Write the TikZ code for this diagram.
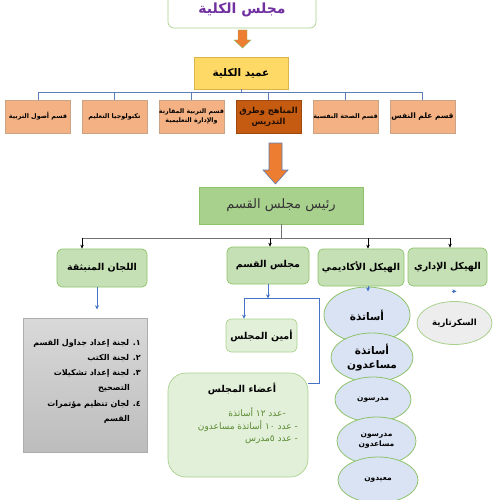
\documentclass[tikz,border=0pt]{standalone}
\usepackage{fontspec}
\TeXXeTstate=1
\newfontfamily\arabicfont[Script=Arabic]{DejaVu Sans}
\newcommand{\AR}[1]{\beginR#1\endR}
\usetikzlibrary{shapes.geometric,arrows.meta,calc}
\definecolor{cPurple}{HTML}{7030A0}
\definecolor{cOrange}{HTML}{ED7D31}
\definecolor{cYellow}{HTML}{FFD966}
\definecolor{cYellowB}{HTML}{D9B44A}
\definecolor{cPeach}{HTML}{F4B183}
\definecolor{cPeachB}{HTML}{C9A386}
\definecolor{cRust}{HTML}{C55A11}
\definecolor{cGreenA}{HTML}{A9D18E}
\definecolor{cGreenB}{HTML}{C5E0B4}
\definecolor{cGreenC}{HTML}{E2F0D9}
\definecolor{cGreenLine}{HTML}{8DC26B}
\definecolor{cBlueFill}{HTML}{DAE3F3}
\definecolor{cBlue}{HTML}{4472C4}
\definecolor{cTopLine}{HTML}{5B7DB8}
\definecolor{cGreyFill}{HTML}{EDEDED}
\definecolor{cItem}{HTML}{5B8A32}
\begin{document}
\begin{tikzpicture}[x=1pt,y=-1pt,font=\arabicfont,
  basebox/.style={inner sep=0pt,align=center,line width=0.7pt},
  deptbox/.style={basebox,fill=cPeach,draw=cPeachB,minimum width=65pt,minimum height=33pt,font=\arabicfont\bfseries\fontsize{6.4}{9}\selectfont},
  greenbox/.style={basebox,rounded corners=5pt,fill=cGreenB,draw=cGreenLine,font=\arabicfont\bfseries\fontsize{9.5}{11}\selectfont},
  ellbox/.style={ellipse,basebox,fill=cBlueFill,draw=cGreenLine,line width=0.8pt},
  topline/.style={draw=cTopLine,line width=0.8pt},
  midline/.style={draw=black!55,line width=0.8pt},
  midarrow/.style={draw=black,line width=0.6pt,-{Stealth[length=4pt,width=3.5pt]}},
  bluecon/.style={draw=cBlue,line width=0.8pt},
  bluearrow/.style={draw=cBlue,line width=0.8pt,-{Stealth[length=4pt,width=4pt]}},
  listline/.style={anchor=east,inner sep=0pt,font=\arabicfont\bfseries\fontsize{8}{10}\selectfont},
  itemline/.style={anchor=east,inner sep=0pt,text=cItem,font=\arabicfont\fontsize{9}{11}\selectfont}
]
\useasboundingbox (0,0) rectangle (500,500);

% top
\node[basebox,rounded corners=6pt,fill=white,draw=cGreenA,minimum width=148pt,minimum height=36pt,
  text=cPurple,font=\arabicfont\bfseries\fontsize{14}{16}\selectfont] (college) at (242,10) {\AR{مجلس الكلية}};
\fill[cOrange,draw=cGreenLine,line width=0.4pt] (238,30) -- (247,30) -- (247,40) -- (251,40) -- (242.5,48) -- (234,40) -- (238,40) -- cycle;

\node[basebox,fill=cYellow,draw=cYellowB,minimum width=94pt,minimum height=32pt,
  font=\arabicfont\bfseries\fontsize{10.5}{12}\selectfont] (dean) at (241,73) {\AR{عميد الكلية}};

% departments
\node[deptbox] (d1) at (38,116.5) {\AR{قسم أصول التربية}};
\node[deptbox] (d2) at (114.5,116.5) {\AR{تكنولوجيا التعليم}};
\node[deptbox,font=\arabicfont\bfseries\fontsize{6.3}{9}\selectfont] (d3) at (191.5,116.5) {\AR{قسم التربية المقارنة}\\\AR{والإدارة التعليمية}};
\node[deptbox,fill=cRust,draw=cRust!80!black,text=black!85!cRust,font=\arabicfont\bfseries\fontsize{8.3}{11}\selectfont] (d4) at (268.5,116.5) {\AR{المناهج وطرق}\\\AR{التدريس}};
\node[deptbox] (d5) at (345.5,116.5) {\AR{قسم الصحة النفسية}};
\node[deptbox,font=\arabicfont\bfseries\fontsize{7.5}{9}\selectfont] (d6) at (422.5,116.5) {\AR{قسم علم النفس}};
\foreach \n in {d1,d2,d3,d4,d5,d6}
  \draw[topline] (dean.south) |- ([yshift=7pt]\n.north) -- (\n.north);

% big arrow
\fill[cOrange,draw=cTopLine,line width=0.6pt] (269,143) -- (282,143) -- (282,170) -- (288,170) -- (275.5,184) -- (263,170) -- (269,170) -- cycle;

\node[basebox,fill=cGreenA,draw=cGreenLine,minimum width=164pt,minimum height=37pt,
  text=black!80,font=\arabicfont\fontsize{13}{15}\selectfont] (head) at (281,205.5) {\AR{رئيس مجلس القسم}};

% middle row
\node[greenbox,minimum width=90pt,minimum height=38pt] (c1) at (102,268) {\AR{اللجان المنبثقة}};
\node[greenbox,minimum width=82pt,minimum height=37pt] (c2) at (268,265.5) {\AR{مجلس القسم}};
\node[greenbox,minimum width=86pt,minimum height=37pt] (c3) at (361,267.5) {\AR{الهيكل الأكاديمي}};
\node[greenbox,minimum width=79pt,minimum height=38pt] (c4) at (447.5,267) {\AR{الهيكل الإداري}};

\coordinate (bus) at (0,238);
\coordinate (k1) at ([xshift=-20pt]c1.north);
\coordinate (k2) at ([xshift=2pt]c2.north);
\coordinate (k3) at ([xshift=7pt]c3.north);
\coordinate (k4) at ([xshift=2.5pt]c4.north);
\draw[midline] (head.south) -- (head.south |- bus);
\draw[midline] (k1 |- bus) -- (k4 |- bus);
\foreach \k in {k1,k2,k3,k4}
  \draw[midarrow] (\k |- bus) -- (\k);

% committees
\node[basebox,top color=black!15,bottom color=black!26,draw=black!32,minimum width=124pt,minimum height=134pt] (comm) at (85,385) {};
\draw[bluearrow] ([xshift=-5pt]c1.south) -- ($(c1.south)+(-5,22)$);
\node[listline] (l1) at (141,343) {\AR{١. لجنة إعداد جداول القسم}};
\node[listline] (l2) at (141,358) {\AR{٢. لجنة الكتب}};
\node[listline] (l3) at (141,373) {\AR{٣. لجنة إعداد تشكيلات}};
\node[listline] (l3b) at (130,388) {\AR{التصحيح}};
\node[listline] (l4) at (141,404) {\AR{٤. لجان تنظيم مؤتمرات}};
\node[listline] (l4b) at (130,419) {\AR{القسم}};

% council
\node[basebox,rounded corners=5pt,fill=cGreenC,draw=cGreenA,minimum width=71pt,minimum height=33pt,
  font=\arabicfont\bfseries\fontsize{9.5}{11}\selectfont] (amin) at (261.5,335.5) {\AR{أمين المجلس}};
\node[basebox,rounded corners=18pt,fill=cGreenC,draw=cGreenA,minimum width=140pt,minimum height=104pt] (members) at (238,425) {};
\node[inner sep=0pt,font=\arabicfont\bfseries\fontsize{9.5}{11}\selectfont] (mt) at (242,389) {\AR{أعضاء المجلس}};
\node[itemline] (m1) at (286,412) {\AR{-عدد ١٢ أساتذة}};
\node[itemline] (m2) at (298,426) {\AR{- عدد ١٠ أساتذة مساعدون}};
\node[itemline] (m3) at (298,440) {\AR{- عدد ٥مدرس}};

\coordinate (j) at ($(c2.south)+(0,14)$);
\draw[bluearrow] (c2.south) -- (j);
\draw[bluearrow] (j) -| ([xshift=-17.5pt]amin.north);
\draw[bluecon] (j) -| ($(members.north east)+(11,11)$) -- ($(members.north east)+(0,11)$);

% academic ellipses
\node[ellbox,minimum width=86pt,minimum height=56pt,font=\arabicfont\bfseries\fontsize{10.5}{12}\selectfont] (e1) at (367,315) {\AR{أساتذة}};
\node[ellbox,minimum width=82pt,minimum height=49pt,font=\arabicfont\bfseries\fontsize{10.5}{14}\selectfont] (e2) at (372,357.5) {\AR{أساتذة}\\\AR{مساعدون}};
\node[ellbox,minimum width=76pt,minimum height=45pt,font=\arabicfont\bfseries\fontsize{7.5}{9}\selectfont] (e3) at (373,399.5) {\AR{مدرسون}};
\node[ellbox,minimum width=79pt,minimum height=48pt,font=\arabicfont\bfseries\fontsize{7.5}{10}\selectfont] (e4) at (376.5,441) {\AR{مدرسون}\\\AR{مساعدون}};
\node[ellbox,minimum width=80pt,minimum height=46pt,font=\arabicfont\bfseries\fontsize{7.5}{9}\selectfont] (e5) at (378,480) {\AR{معيدون}};
\draw[bluearrow] (k3 |- c3.south) -- ([yshift=-5pt]k3 |- c3.south);

% administrative
\node[ellbox,fill=cGreyFill,draw=cGreenA,minimum width=75pt,minimum height=43pt,font=\arabicfont\bfseries\fontsize{8.5}{10}\selectfont] (sec) at (454.5,323) {\AR{السكرتارية}};
\draw[bluearrow] ($(c4.south)+(4,5)$) -- ($(c4.south)+(9,5)$);
\end{tikzpicture}
\end{document}
